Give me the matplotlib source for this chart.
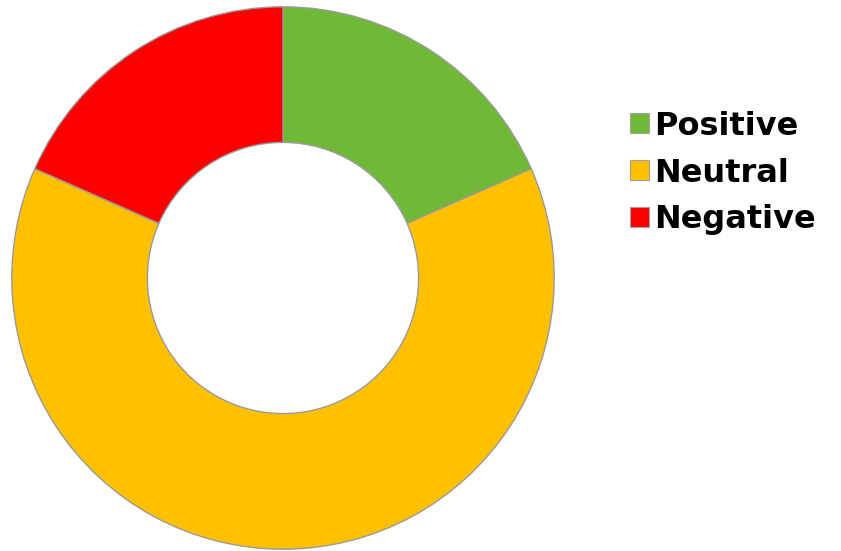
import matplotlib

matplotlib.use("Agg")
import matplotlib.pyplot as plt
from matplotlib.patches import Patch

labels = ["Positive", "Neutral", "Negative"]
shares = [18.4, 63.2, 18.4]
colors = ["#70b936", "#ffc000", "#ff0000"]

fig = plt.figure(figsize=(8.41, 5.51), dpi=100)
cx, cy, r = 283, 278, 272
ax = fig.add_axes([(cx - r) / 841, (551 - cy - r) / 551, 2 * r / 841, 2 * r / 551])
ax.pie(shares, colors=colors, startangle=90, counterclock=False, radius=1,
       wedgeprops=dict(width=0.5, edgecolor="#9a9a9a", linewidth=1))
ax.set_xlim(-1.003, 1.003)
ax.set_ylim(-1.003, 1.003)
ax.set_aspect("equal")
ax.axis("off")

handles = [Patch(facecolor=c, edgecolor="#a0a0a0", linewidth=0.8) for c in colors]
fig.legend(handles, labels, loc="center left", bbox_to_anchor=(630 / 841, 1 - 173 / 551),
           frameon=False, prop=dict(family="DejaVu Sans", weight="heavy", size=23),
           handlelength=0.6, handleheight=0.6, handletextpad=0.15, labelspacing=0.5,
           borderpad=0, borderaxespad=0)

fig.savefig("out.png", dpi=100)
